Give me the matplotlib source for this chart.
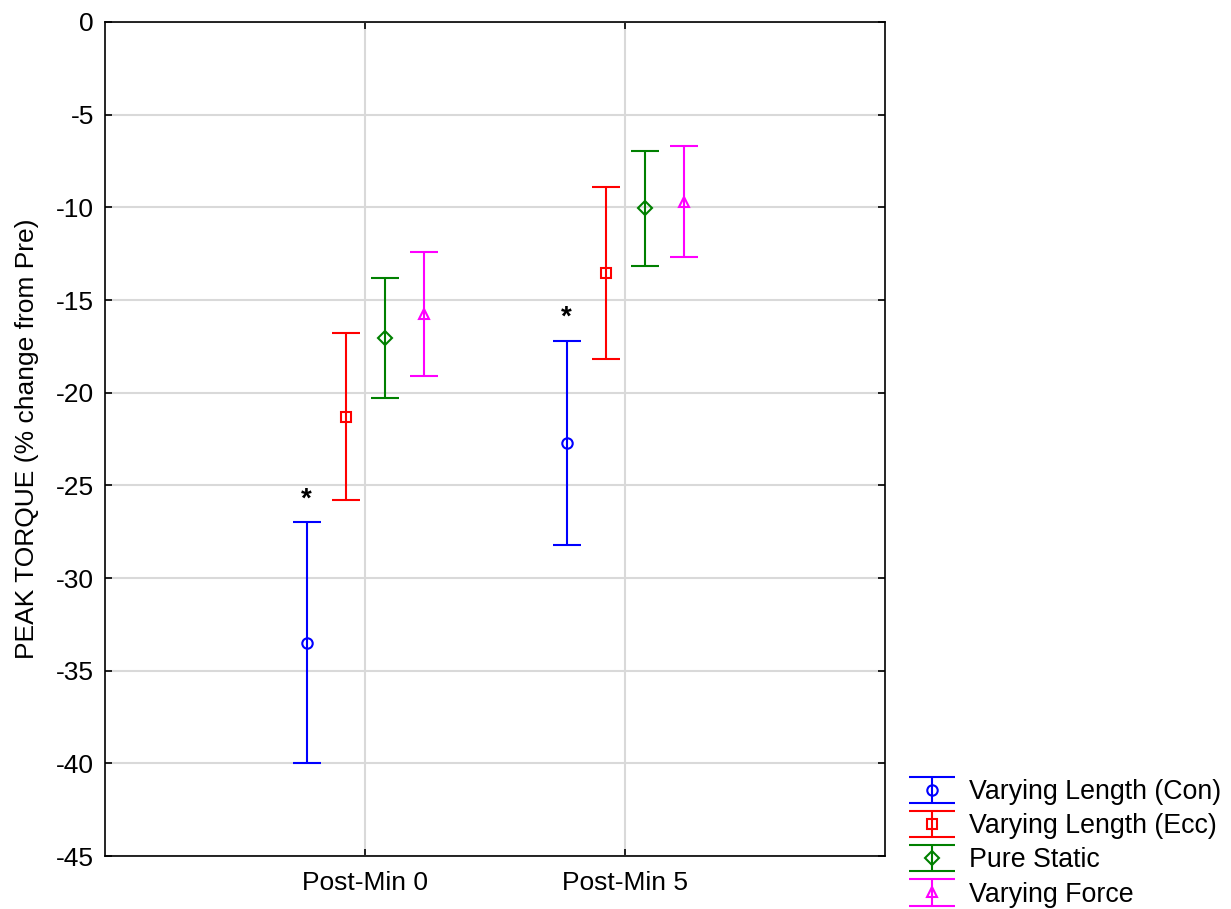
import numpy as np
import matplotlib.pyplot as plt

plt.rcParams['font.family'] = ['Liberation Sans', 'DejaVu Sans']
plt.rcParams['axes.unicode_minus'] = False

categories = ['Post-Min 0', 'Post-Min 5']
series = ['Varying Length (Con)', 'Varying Length (Ecc)', 'Pure Static', 'Varying Force']
means = {
    'Varying Length (Con)': [-33.5, -22.7],
    'Varying Length (Ecc)': [-21.3, -13.55],
    'Pure Static': [-17.05, -10.05],
    'Varying Force': [-15.75, -9.7],
}
errs = {
    'Varying Length (Con)': [6.5, 5.5],
    'Varying Length (Ecc)': [4.5, 4.65],
    'Pure Static': [3.25, 3.1],
    'Varying Force': [3.35, 3.0],
}
colors = ['blue', 'red', 'green', 'magenta']
markers = ['o', 's', 'D', '^']
offsets = [-0.225, -0.075, 0.075, 0.225]

fig = plt.figure(figsize=(12.31, 9.09), dpi=100)
ax = fig.add_axes([0.0853, 0.0583, 0.6337, 0.9175])

x = np.arange(1, len(categories) + 1)
for i, s in enumerate(series):
    ax.errorbar(x + offsets[i], means[s], yerr=errs[s], fmt=markers[i],
                color=colors[i], mfc='none', mec=colors[i], ms=7.5, mew=1.5,
                elinewidth=1.5, capsize=10, capthick=1.5, zorder=3)

# significance markers above the Con group
for xi, m, e in zip(x, means[series[0]], errs[series[0]]):
    ax.text(xi + offsets[0], m + e + 0.55, '*', ha='center', va='bottom',
            fontsize=20, fontweight='bold')

# legend proxies (wider caps, as in the original)
handles = []
for i, s in enumerate(series):
    h = ax.errorbar([np.nan], [np.nan], yerr=[1], fmt=markers[i], color=colors[i],
                    mfc='none', mec=colors[i], ms=7.5, mew=1.5, elinewidth=1.5,
                    capsize=16.5, capthick=1.5)
    handles.append(h)

ax.set_xlim(0, 3)
ax.set_ylim(-45, 0)
ax.set_xticks(x)
ax.set_xticklabels(categories)
ax.set_yticks(np.arange(-45, 1, 5))
ax.grid(True, color='#d9d9d9', lw=1.5)
ax.set_axisbelow(True)
ax.tick_params(direction='in', length=5, labelsize=19, top=True, right=True, width=1.2)
ax.tick_params(axis='y', pad=8)
ax.tick_params(axis='x', pad=11)
for sp in ax.spines.values():
    sp.set_linewidth(1.2)
ax.set_ylabel('PEAK TORQUE (% change from Pre)', fontsize=19, labelpad=12)

fig.legend(handles=handles, labels=series, loc='lower left',
           bbox_to_anchor=(0.723, -0.019), frameon=False, fontsize=19.3,
           handlelength=1.75, handletextpad=0.48, labelspacing=0.3,
           borderpad=0.2)

fig.savefig('out.png', dpi=100)
